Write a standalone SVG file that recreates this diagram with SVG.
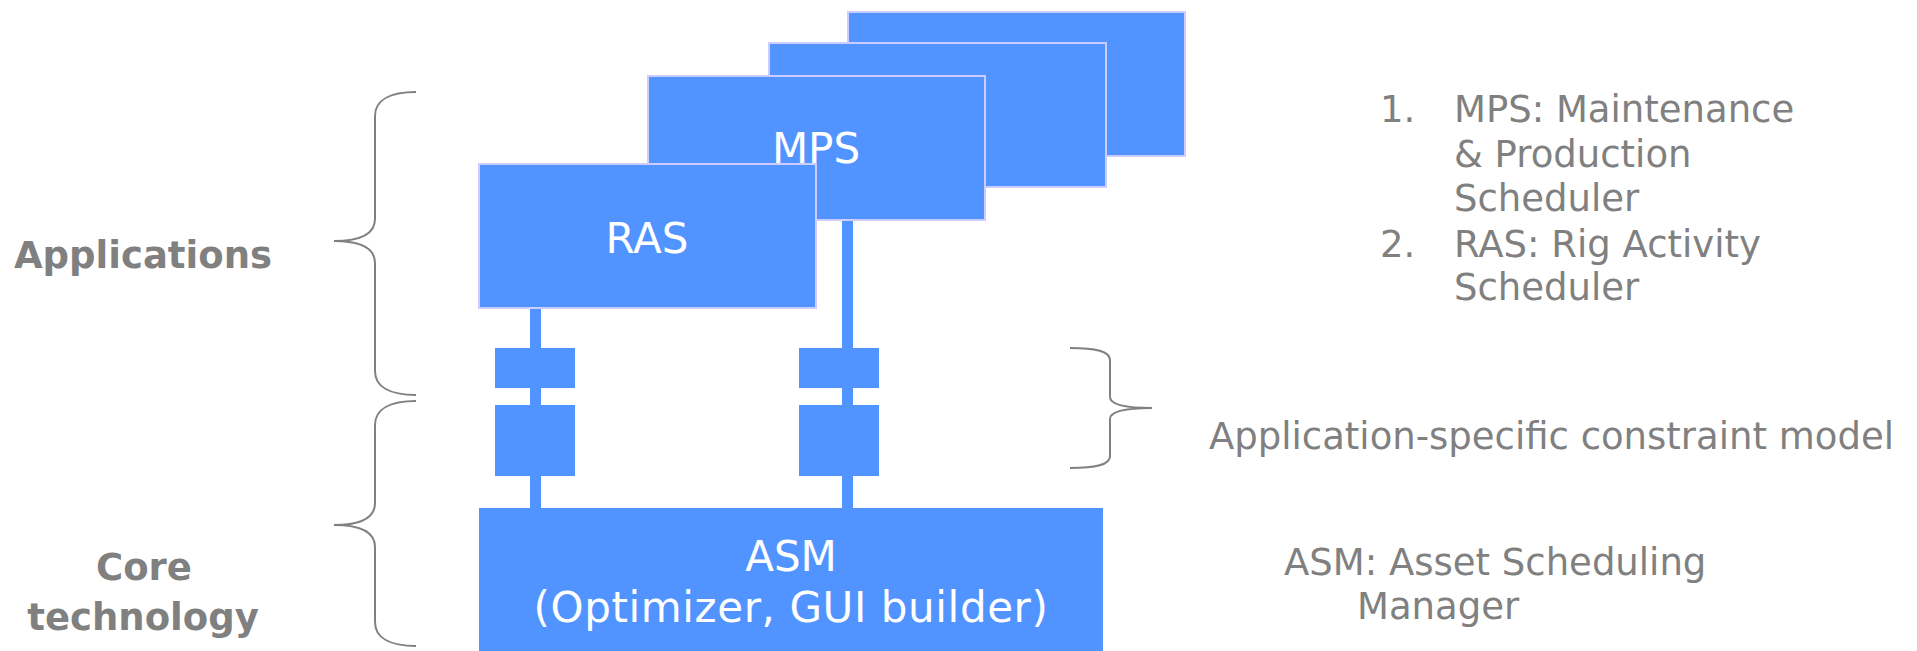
<svg xmlns="http://www.w3.org/2000/svg" width="1917" height="651" viewBox="0 0 1917 651">
<style>
.app{fill:#5294FF;stroke:#CCCCFF;stroke-width:2}
.blk{fill:#5294FF}
.btxt{font-family:"DejaVu Sans",Verdana,sans-serif;font-size:42px;fill:#FFFFFF;text-anchor:middle}
.lbl{font-family:"DejaVu Sans",Verdana,sans-serif;font-size:37px;font-weight:bold;fill:#808080;text-anchor:middle}
.note{font-family:"DejaVu Sans",Verdana,sans-serif;font-size:37px;fill:#808080}
.brace{fill:none;stroke:#808080;stroke-width:2}
</style>
<rect width="1917" height="651" fill="#FFFFFF"/>
<g id="app4"><rect class="app" x="848" y="12" width="337" height="144"/></g>
<g id="app3"><rect class="app" x="769" y="43" width="337" height="144"/></g>
<g id="mps"><rect class="app" x="648" y="76" width="337" height="144"/><text class="btxt" x="816" y="163">MPS</text></g>
<g id="connectors">
<rect class="blk" x="530" y="308" width="11" height="200"/>
<rect class="blk" x="842" y="221" width="11" height="287"/>
</g>
<g id="ras"><rect class="app" x="479" y="164" width="337" height="144"/><text class="btxt" x="647" y="253">RAS</text></g>
<g id="model-ras-1"><rect class="blk" x="495" y="348" width="80" height="40"/></g>
<g id="model-ras-2"><rect class="blk" x="495" y="405" width="80" height="71"/></g>
<g id="model-mps-1"><rect class="blk" x="799" y="348" width="80" height="40"/></g>
<g id="model-mps-2"><rect class="blk" x="799" y="405" width="80" height="71"/></g>
<g id="asm"><rect class="blk" x="479" y="508" width="624" height="145"/>
<text class="btxt" x="791" y="571">ASM</text>
<text class="btxt" x="791" y="622" letter-spacing="0.6">(Optimizer, GUI builder)</text></g>
<g id="brace-applications">
<path class="brace" d="M416,92 C390,92 375,100 375,116 L375,219 C375,234 360,241 334,241 C360,241 375,248 375,263 L375,371 C375,387 390,395 416,395"/>
<text class="lbl" x="143" y="268">Applications</text>
</g>
<g id="brace-core">
<path class="brace" d="M416,401 C390,401 375,409 375,425 L375,503 C375,518 360,525 334,525 C360,525 375,532 375,547 L375,622 C375,638 390,646 416,646"/>
<text class="lbl" x="144" y="580">Core</text>
<text class="lbl" x="143" y="630">technology</text>
</g>
<g id="brace-model">
<path class="brace" d="M1070,348 C1096,348 1110,351 1110,360 L1110,397 C1110,404 1124,408 1152,408 C1124,408 1110,412 1110,419 L1110,456 C1110,465 1096,468 1070,468"/>
<text class="note" x="1209" y="449">Application-specific constraint model</text>
</g>
<g id="legend-apps">
<text class="note" x="1380" y="122">1.</text>
<text class="note" x="1454" y="122">MPS: Maintenance</text>
<text class="note" x="1454" y="167">&amp; Production</text>
<text class="note" x="1454" y="211">Scheduler</text>
<text class="note" x="1380" y="257">2.</text>
<text class="note" x="1454" y="257">RAS: Rig Activity</text>
<text class="note" x="1454" y="300">Scheduler</text>
</g>
<g id="legend-asm">
<text class="note" x="1284" y="575">ASM: Asset Scheduling</text>
<text class="note" x="1357" y="619">Manager</text>
</g>
</svg>
